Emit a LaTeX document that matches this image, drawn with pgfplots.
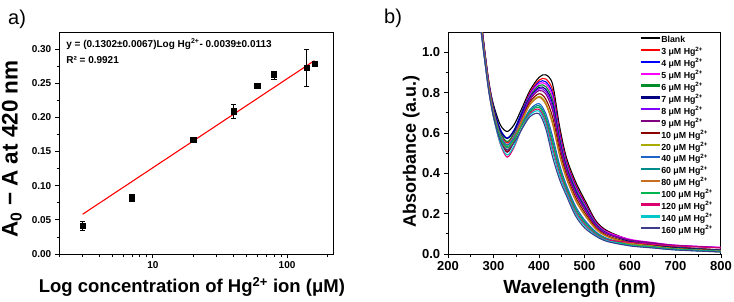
\documentclass[border=0pt]{standalone}
\usepackage{fontspec}
\setmainfont{Liberation Sans}
\usepackage{pgfplots}
\usepackage{pgfplotstable}
\pgfplotsset{compat=1.18}

\definecolor{c3}{RGB}{255,0,0}
\definecolor{c4}{RGB}{0,0,255}
\definecolor{c5}{RGB}{255,0,255}
\definecolor{c6}{RGB}{0,140,40}
\definecolor{c7}{RGB}{0,0,128}
\definecolor{c8}{RGB}{128,0,255}
\definecolor{c9}{RGB}{128,0,128}
\definecolor{c10}{RGB}{140,0,0}
\definecolor{c20}{RGB}{170,170,0}
\definecolor{c40}{RGB}{30,100,200}
\definecolor{c60}{RGB}{0,140,140}
\definecolor{c80}{RGB}{200,110,30}
\definecolor{c100}{RGB}{0,180,80}
\definecolor{c120}{RGB}{220,0,110}
\definecolor{c140}{RGB}{0,200,200}
\definecolor{c160}{RGB}{60,60,140}

\pgfplotstableread{
wl blank c3 c4 c5 c6 c7 c8 c9 c10 c20 c40 c60 c80 c100 c120 c140 c160
270 1.220 1.214 1.211 1.208 1.205 1.201 1.198 1.195 1.189 1.184 1.170 1.165 1.182 1.163 1.158 1.155 1.150
280 1.020 1.016 1.014 1.012 1.009 1.007 1.005 1.002 0.998 0.994 0.984 0.981 0.993 0.979 0.976 0.974 0.970
290 0.850 0.846 0.844 0.842 0.839 0.837 0.835 0.832 0.828 0.824 0.814 0.811 0.823 0.809 0.806 0.804 0.800
300 0.740 0.725 0.728 0.714 0.721 0.722 0.713 0.704 0.701 0.705 0.697 0.691 0.699 0.691 0.680 0.678 0.680
315 0.640 0.604 0.618 0.578 0.604 0.612 0.591 0.569 0.568 0.586 0.582 0.572 0.572 0.574 0.545 0.548 0.560
330 0.607 0.550 0.575 0.511 0.557 0.572 0.539 0.504 0.506 0.539 0.541 0.525 0.516 0.532 0.480 0.491 0.515
345 0.640 0.598 0.614 0.569 0.599 0.609 0.584 0.559 0.558 0.579 0.575 0.563 0.563 0.566 0.528 0.535 0.550
360 0.710 0.690 0.692 0.673 0.681 0.681 0.669 0.657 0.650 0.653 0.638 0.630 0.645 0.628 0.610 0.610 0.610
380 0.810 0.800 0.793 0.788 0.781 0.775 0.770 0.763 0.752 0.742 0.716 0.709 0.739 0.703 0.696 0.689 0.680
400 0.875 0.861 0.852 0.844 0.835 0.826 0.819 0.810 0.794 0.781 0.745 0.735 0.776 0.727 0.717 0.708 0.695
415 0.888 0.867 0.853 0.842 0.829 0.816 0.805 0.792 0.767 0.749 0.695 0.679 0.741 0.668 0.652 0.639 0.620
430 0.840 0.811 0.793 0.779 0.761 0.743 0.728 0.710 0.678 0.653 0.581 0.559 0.642 0.545 0.523 0.505 0.480
445 0.635 0.614 0.601 0.590 0.577 0.563 0.553 0.540 0.516 0.497 0.444 0.428 0.489 0.418 0.402 0.389 0.370
460 0.480 0.465 0.455 0.448 0.438 0.429 0.421 0.412 0.395 0.381 0.343 0.332 0.376 0.324 0.313 0.303 0.290
480 0.360 0.346 0.338 0.331 0.323 0.314 0.307 0.299 0.284 0.272 0.238 0.227 0.267 0.221 0.210 0.202 0.190
500 0.270 0.259 0.252 0.246 0.239 0.232 0.227 0.220 0.207 0.197 0.169 0.161 0.193 0.155 0.147 0.140 0.130
525 0.165 0.159 0.155 0.152 0.148 0.144 0.141 0.137 0.130 0.125 0.110 0.105 0.123 0.102 0.097 0.093 0.088
550 0.115 0.111 0.108 0.108 0.103 0.101 0.101 0.098 0.091 0.087 0.077 0.074 0.086 0.072 0.070 0.066 0.062
600 0.070 0.068 0.066 0.073 0.063 0.062 0.069 0.069 0.057 0.054 0.048 0.047 0.049 0.045 0.058 0.042 0.040
650 0.050 0.048 0.047 0.057 0.046 0.045 0.054 0.055 0.041 0.040 0.036 0.034 0.034 0.034 0.048 0.031 0.030
700 0.035 0.034 0.033 0.044 0.032 0.031 0.042 0.043 0.028 0.027 0.024 0.023 0.022 0.023 0.040 0.021 0.020
800 0.020 0.019 0.019 0.033 0.018 0.017 0.032 0.031 0.016 0.015 0.013 0.012 0.010 0.012 0.030 0.011 0.010
}\spectra

\pgfplotstableread{
x y e
3 0.041 0.006
7 0.082 0.005
20 0.167 0.002
40 0.209 0.010
60 0.246 0.003
80 0.262 0.006
140 0.273 0.027
160 0.279 0.002
}\calib

\begin{document}
\begin{tikzpicture}
\useasboundingbox (0,0) rectangle (734pt,301pt);
\node[anchor=base west, font=\fontsize{20}{24}\selectfont, inner sep=0pt] at (8pt,277pt) {a)};
\node[anchor=base west, font=\fontsize{20}{24}\selectfont, inner sep=0pt] at (384pt,278pt) {b)};

\begin{axis}[
  at={(59pt,47pt)}, anchor=south west, scale only axis,
  width=274pt, height=222pt,
  xmode=log, xmin=2, xmax=220, ymin=0, ymax=0.325,
  axis line style={line width=1pt},
  tick align=outside, xtick pos=bottom, ytick pos=left,
  xtick={10,100}, xticklabels={10,100},
  minor xtick={2,3,4,5,6,7,8,9,20,30,40,50,60,70,80,90,200},
  ytick={0,0.05,0.10,0.15,0.20,0.25,0.30},
  minor ytick={0.025,0.075,0.125,0.175,0.225,0.275},
  major tick length=4.25pt, minor tick length=2.5pt,
  every tick/.style={black, line width=0.8pt},
  /pgf/number format/assume math mode=true,
  yticklabel style={/pgf/number format/.cd, fixed, fixed zerofill, precision=2},
  tick label style={font=\bfseries\fontsize{10}{12}\selectfont},
  every axis y label/.style={at={(axis description cs:-0.172,0.473)}, rotate=90, anchor=center, font=\bfseries\fontsize{22.5}{26}\selectfont},
  every axis x label/.style={at={(axis description cs:0.485,-0.174)}, anchor=base, font=\bfseries\fontsize{18.5}{22}\selectfont},
  ylabel={A\textsubscript{0} − A at 420 nm},
  xlabel={Log concentration of Hg\textsuperscript{2+} ion (μM)},
]
\addplot[red, line width=1.1pt] coordinates {(3,0.0582) (160,0.2831)};
\addplot[black, only marks, mark=square*, mark size=2.6pt,
  error bars/.cd, y dir=both, y explicit,
  error bar style={line width=0.8pt, black},
  error mark options={rotate=90, mark size=2.6pt, line width=0.8pt, black}]
  table[x=x, y=y, y error=e] {\calib};
\node[anchor=base west, font=\bfseries\fontsize{10}{12}\selectfont, inner sep=0pt] at (rel axis cs:0.026,0.932) {y = (0.1302±0.0067)Log Hg\textsuperscript{2+}- 0.0039±0.0113};
\node[anchor=base west, font=\bfseries\fontsize{10}{12}\selectfont, inner sep=0pt] at (rel axis cs:0.026,0.860) {R² = 0.9921};
\end{axis}

\begin{axis}[
  at={(448pt,47pt)}, anchor=south west, scale only axis,
  width=273pt, height=222pt,
  xmin=200, xmax=800, ymin=0, ymax=1.1,
  axis line style={line width=1pt},
  tick align=outside, xtick pos=bottom, ytick pos=left,
  xtick={200,300,...,800},
  minor xtick={250,350,450,550,650,750},
  ytick={0,0.2,0.4,0.6,0.8,1.0},
  minor ytick={0.1,0.3,0.5,0.7,0.9},
  major tick length=4.25pt, minor tick length=2.5pt,
  every tick/.style={black, line width=0.8pt},
  /pgf/number format/assume math mode=true,
  yticklabel style={/pgf/number format/.cd, fixed, fixed zerofill, precision=1},
  tick label style={font=\bfseries\fontsize{13}{15}\selectfont},
  every axis y label/.style={at={(axis description cs:-0.135,0.462)}, rotate=90, anchor=center, font=\bfseries\fontsize{18}{22}\selectfont},
  every axis x label/.style={at={(axis description cs:0.482,-0.18)}, anchor=base, font=\bfseries\fontsize{19}{22}\selectfont},
  ylabel={Absorbance (a.u.)},
  xlabel={Wavelength (nm)},
  legend cell align=left,
  legend style={draw=none, fill=none, at={(rel axis cs:0.69,0.99)}, anchor=north west,
    font=\bfseries\fontsize{8.8}{10}\selectfont,
    nodes={inner sep=0.5pt, text height=6pt, text depth=1pt}, row sep=3.9pt},
  legend image code/.code={\draw[line width=2.2pt] (0pt,2.5pt) -- (19pt,2.5pt);},
  every axis plot/.append style={line width=1.1pt, smooth},
]
\addplot[black] table[x=wl, y=blank] {\spectra};
\addlegendentry{Blank}
\addplot[c3] table[x=wl, y=c3] {\spectra};
\addlegendentry{3 μM Hg\textsuperscript{2+}}
\addplot[c4] table[x=wl, y=c4] {\spectra};
\addlegendentry{4 μM Hg\textsuperscript{2+}}
\addplot[c5] table[x=wl, y=c5] {\spectra};
\addlegendentry{5 μM Hg\textsuperscript{2+}}
\addplot[c6] table[x=wl, y=c6] {\spectra};
\addlegendentry{6 μM Hg\textsuperscript{2+}}
\addplot[c7] table[x=wl, y=c7] {\spectra};
\addlegendentry{7 μM Hg\textsuperscript{2+}}
\addplot[c8] table[x=wl, y=c8] {\spectra};
\addlegendentry{8 μM Hg\textsuperscript{2+}}
\addplot[c9] table[x=wl, y=c9] {\spectra};
\addlegendentry{9 μM Hg\textsuperscript{2+}}
\addplot[c10] table[x=wl, y=c10] {\spectra};
\addlegendentry{10 μM Hg\textsuperscript{2+}}
\addplot[c20] table[x=wl, y=c20] {\spectra};
\addlegendentry{20 μM Hg\textsuperscript{2+}}
\addplot[c40] table[x=wl, y=c40] {\spectra};
\addlegendentry{40 μM Hg\textsuperscript{2+}}
\addplot[c60] table[x=wl, y=c60] {\spectra};
\addlegendentry{60 μM Hg\textsuperscript{2+}}
\addplot[c80] table[x=wl, y=c80] {\spectra};
\addlegendentry{80 μM Hg\textsuperscript{2+}}
\addplot[c100] table[x=wl, y=c100] {\spectra};
\addlegendentry{100 μM Hg\textsuperscript{2+}}
\addplot[c120] table[x=wl, y=c120] {\spectra};
\addlegendentry{120 μM Hg\textsuperscript{2+}}
\addplot[c140] table[x=wl, y=c140] {\spectra};
\addlegendentry{140 μM Hg\textsuperscript{2+}}
\addplot[c160] table[x=wl, y=c160] {\spectra};
\addlegendentry{160 μM Hg\textsuperscript{2+}}
\end{axis}
\end{tikzpicture}
\end{document}
